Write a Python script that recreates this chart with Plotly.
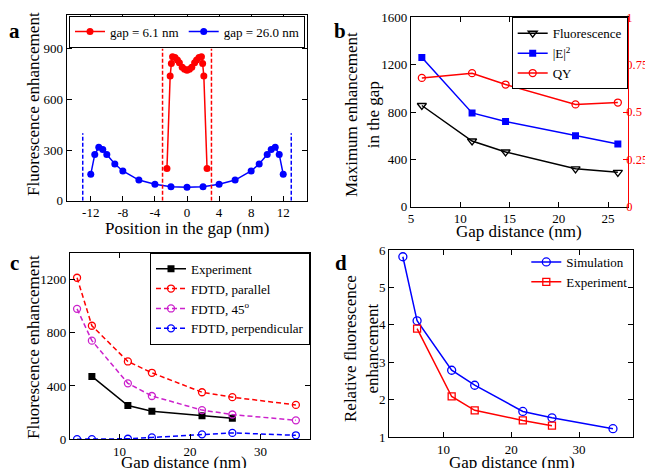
import plotly.graph_objects as go

# The page body adds an 8px margin, so the figure is drawn 8px in from the corner.
OFF = 8
W, H = 653 - OFF, 468 - OFF
FONT = "Liberation Serif, Times New Roman, serif"

# ---------------- Panel a data ----------------
a_red_x = [-2.5, -2.1, -1.95, -1.8, -1.5, -1.2, -0.95, -0.6, -0.3, 0.0,
           0.3, 0.6, 0.95, 1.2, 1.5, 1.8, 1.95, 2.1, 2.5]
a_red_y = [190, 738, 812, 852, 848, 833, 817, 790, 778, 772,
           778, 790, 817, 833, 848, 852, 812, 738, 190]
a_blue_x = [-12, -11.5, -11, -10.5, -10, -9, -8, -6, -4, -2, 0,
            2, 4, 6, 8, 9, 10, 10.5, 11, 11.5, 12]
a_blue_y = [156, 274, 316, 304, 274, 217, 176, 122, 97, 83, 79,
            83, 97, 122, 176, 217, 274, 304, 316, 274, 156]
a_red_edge_x = [-3.05, 3.05]
a_red_edge_top = 900
a_blue_edge_x = [-13, 13]
a_blue_edge_top = 400
a_xticks = [-12, -8, -4, 0, 4, 8, 12]
a_xticklabels = ["-12", "-8", "-4", "0", "4", "8", "12"]
a_yticks = [0, 300, 600, 900]

# ---------------- Panel b data ----------------
b_gap = [6.1, 11.2, 14.6, 21.7, 26.0]
b_fluor = [855, 555, 462, 320, 290]
b_e2 = [1260, 792, 720, 600, 530]
b_qy = [0.68, 0.705, 0.645, 0.54, 0.55]
b_xticks = [5, 10, 15, 20, 25]
b_yticks = [0, 400, 800, 1200, 1600]
b_y2ticks = [0, 0.25, 0.5, 0.75, 1]
b_y2ticklabels = ["0", "0.25", "0.5", "0.75", "1"]

# ---------------- Panel c data ----------------
c_gap_sim = [4.0, 6.1, 11.2, 14.6, 21.7, 26.0, 35.0]
c_gap_exp = [6.1, 11.2, 14.6, 21.7, 26.0]
c_exp = [472, 253, 211, 176, 157]
c_par = [1212, 852, 584, 499, 353, 316, 258]
c_45 = [979, 740, 420, 325, 219, 186, 142]
c_perp = [1, 1, 4, 14, 37, 48, 30]
c_xticks = [10, 20, 30]
c_yticks = [0, 400, 800, 1200]

# ---------------- Panel d data ----------------
d_gap_sim = [4.0, 6.1, 11.2, 14.6, 21.7, 26.0, 35.0]
d_sim = [5.82, 4.11, 2.79, 2.39, 1.69, 1.52, 1.23]
d_gap_exp = [6.1, 11.2, 14.6, 21.7, 26.0]
d_exp = [3.9, 2.09, 1.72, 1.45, 1.31]
d_xticks = [10, 20, 30]
d_yticks = [1, 2, 3, 4, 5, 6]

RED = "#ff0000"
BLUE = "#0000ff"
MAG = "#cc22cc"
BLACK = "#000000"
DASH = "5px,3px"

fig = go.Figure()

# Panel a
fig.add_trace(go.Scatter(x=a_red_x, y=a_red_y, mode="lines+markers", name="gap = 6.1 nm",
                         line=dict(color=RED, width=1.5), marker=dict(color=RED, size=7),
                         xaxis="x", yaxis="y", legend="legend"))
fig.add_trace(go.Scatter(x=a_blue_x, y=a_blue_y, mode="lines+markers", name="gap = 26.0 nm",
                         line=dict(color=BLUE, width=1.5), marker=dict(color=BLUE, size=7),
                         xaxis="x", yaxis="y", legend="legend"))
for xv in a_red_edge_x:
    fig.add_trace(go.Scatter(x=[xv, xv], y=[0, a_red_edge_top], mode="lines", showlegend=False,
                             line=dict(color=RED, width=1.5, dash="4px,2px"), xaxis="x", yaxis="y"))
for xv in a_blue_edge_x:
    fig.add_trace(go.Scatter(x=[xv, xv], y=[0, a_blue_edge_top], mode="lines", showlegend=False,
                             line=dict(color=BLUE, width=1.5, dash="4px,2px"), xaxis="x", yaxis="y"))

# Panel b
fig.add_trace(go.Scatter(x=b_gap, y=b_fluor, mode="lines+markers", name="Fluorescence",
                         line=dict(color=BLACK, width=1.5),
                         marker=dict(symbol="triangle-down-open", color=BLACK, size=8, line=dict(width=1.3)),
                         xaxis="x2", yaxis="y2", legend="legend2"))
fig.add_trace(go.Scatter(x=b_gap, y=b_e2, mode="lines+markers", name="|E|<sup>2</sup>",
                         line=dict(color=BLUE, width=1.5),
                         marker=dict(symbol="square", color=BLUE, size=7),
                         xaxis="x2", yaxis="y2", legend="legend2"))
fig.add_trace(go.Scatter(x=b_gap, y=b_qy, mode="lines+markers", name="QY",
                         line=dict(color=RED, width=1.5),
                         marker=dict(symbol="circle-open", color=RED, size=7, line=dict(width=1.3)),
                         xaxis="x2", yaxis="y5", legend="legend2"))

# Panel c
fig.add_trace(go.Scatter(x=c_gap_exp, y=c_exp, mode="lines+markers", name="Experiment",
                         line=dict(color=BLACK, width=1.5),
                         marker=dict(symbol="square", color=BLACK, size=7),
                         xaxis="x3", yaxis="y3", legend="legend3"))
fig.add_trace(go.Scatter(x=c_gap_sim, y=c_par, mode="lines+markers", name="FDTD, parallel",
                         line=dict(color=RED, width=1.5, dash=DASH),
                         marker=dict(symbol="circle-open", color=RED, size=7, line=dict(width=1.3)),
                         xaxis="x3", yaxis="y3", legend="legend3"))
fig.add_trace(go.Scatter(x=c_gap_sim, y=c_45, mode="lines+markers", name="FDTD, 45<sup>o</sup>",
                         line=dict(color=MAG, width=1.5, dash=DASH),
                         marker=dict(symbol="circle-open", color=MAG, size=7, line=dict(width=1.3)),
                         xaxis="x3", yaxis="y3", legend="legend3"))
fig.add_trace(go.Scatter(x=c_gap_sim, y=c_perp, mode="lines+markers", name="FDTD, perpendicular",
                         line=dict(color=BLUE, width=1.5, dash=DASH),
                         marker=dict(symbol="circle-open", color=BLUE, size=7, line=dict(width=1.3)),
                         xaxis="x3", yaxis="y3", legend="legend3"))

# Panel d
fig.add_trace(go.Scatter(x=d_gap_sim, y=d_sim, mode="lines+markers", name="Simulation",
                         line=dict(color=BLUE, width=1.5),
                         marker=dict(symbol="circle-open", color=BLUE, size=8, line=dict(width=1.3)),
                         xaxis="x4", yaxis="y4", legend="legend4"))
fig.add_trace(go.Scatter(x=d_gap_exp, y=d_exp, mode="lines+markers", name="Experiment",
                         line=dict(color=RED, width=1.5),
                         marker=dict(symbol="square-open", color=RED, size=7, line=dict(width=1.3)),
                         xaxis="x4", yaxis="y4", legend="legend4"))


def px_x(p):
    return (p - OFF) / W


def px_y(p):
    return 1 - (p - OFF) / H


def ax(domain, rng, tickvals, anchor, ticktext=None, mirror="ticks",
       color=BLACK, side=None, overlaying=None, standoff=None, fsize=13):
    d = dict(domain=domain, range=rng, tickvals=tickvals, anchor=anchor,
             showgrid=False, zeroline=False, showline=True, linecolor=color, linewidth=1.2,
             mirror=mirror, ticks="inside", ticklen=5, tickwidth=1, tickcolor=color,
             tickfont=dict(family=FONT, size=fsize, color=color), automargin=False)
    if ticktext is not None:
        d["ticktext"] = ticktext
    if side:
        d["side"] = side
    if overlaying:
        d["overlaying"] = overlaying
    if standoff is not None:
        d["ticklabelstandoff"] = standoff
    return d


def title_ann(text, x, y, angle=0):
    return dict(text=text, x=px_x(x), y=px_y(y), xref="paper", yref="paper", showarrow=False,
                textangle=angle, xanchor="center", yanchor="middle",
                font=dict(family=FONT, size=17, color=BLACK))


def letter(text, x, y):
    return dict(text="<b>%s</b>" % text, x=px_x(x), y=px_y(y), xref="paper", yref="paper",
                showarrow=False, font=dict(family=FONT, size=21, color=BLACK),
                xanchor="center", yanchor="middle")


legend_common = dict(bgcolor="white", bordercolor=BLACK, borderwidth=1,
                     font=dict(family=FONT, size=13), itemwidth=30, tracegroupgap=0)

layout = dict(
    width=W, height=H, margin=dict(l=0, r=0, t=0, b=0),
    paper_bgcolor="white", plot_bgcolor="white",
    font=dict(family=FONT, size=13, color=BLACK),
    # panel a
    xaxis=ax([px_x(66.7), px_x(307.3)], [-15, 15], a_xticks, "y", ticktext=a_xticklabels),
    yaxis=ax([px_y(200.7), px_y(15)], [0, 1100], a_yticks, "x"),
    # panel b
    xaxis2=ax([px_x(411), px_x(627.7)], [5, 27], b_xticks, "y2"),
    yaxis2=ax([px_y(206.7), px_y(17.3)], [0, 1600], b_yticks, "x2", mirror=False),
    yaxis5=ax([px_y(206.7), px_y(17.3)], [0, 1], b_y2ticks, "x2", ticktext=b_y2ticklabels,
              mirror=False, color=RED, side="right", overlaying="y2", standoff=-5, fsize=12.5),
    # panel c
    xaxis3=ax([px_x(70), px_x(310)], [3, 37], c_xticks, "y3"),
    yaxis3=ax([px_y(439.3), px_y(252.7)], [0, 1400], c_yticks, "x3"),
    # panel d
    xaxis4=ax([px_x(389.3), px_x(633.3)], [2, 38], d_xticks, "y4"),
    yaxis4=ax([px_y(437.3), px_y(250)], [1, 6], d_yticks, "x4"),
    legend=dict(orientation="h", x=px_x(187), y=px_y(15.5), xanchor="center", yanchor="top",
                **legend_common),
    legend2=dict(x=px_x(627.7), y=px_y(17.3), xanchor="right", yanchor="top", **legend_common),
    legend3=dict(x=px_x(310), y=px_y(252.7), xanchor="right", yanchor="top", **legend_common),
    legend4=dict(x=px_x(633.3), y=px_y(247), xanchor="right", yanchor="top",
                 bgcolor="rgba(0,0,0,0)", borderwidth=0,
                 font=dict(family=FONT, size=13), itemwidth=30, tracegroupgap=0),
    annotations=[
        title_ann("Fluorescence enhancement", 33, 104, -90),
        title_ann("Position in the gap (nm)", 187, 228),
        title_ann("Maximum enhancement<br>in the gap", 362, 115, -90),
        title_ann("Gap distance (nm)", 519, 231),
        title_ann("Fluorescence enhancement", 33, 347, -90),
        title_ann("Gap distance (nm)", 184, 462),
        title_ann("Relative fluorescence<br>enhancement", 361, 348, -90),
        title_ann("Gap distance (nm)", 512, 462),
        letter("a", 14, 31),
        letter("b", 340, 31),
        letter("c", 14, 263),
        letter("d", 341, 263),
    ],
)
fig.update_layout(**layout)
fig.write_html("out.html")
